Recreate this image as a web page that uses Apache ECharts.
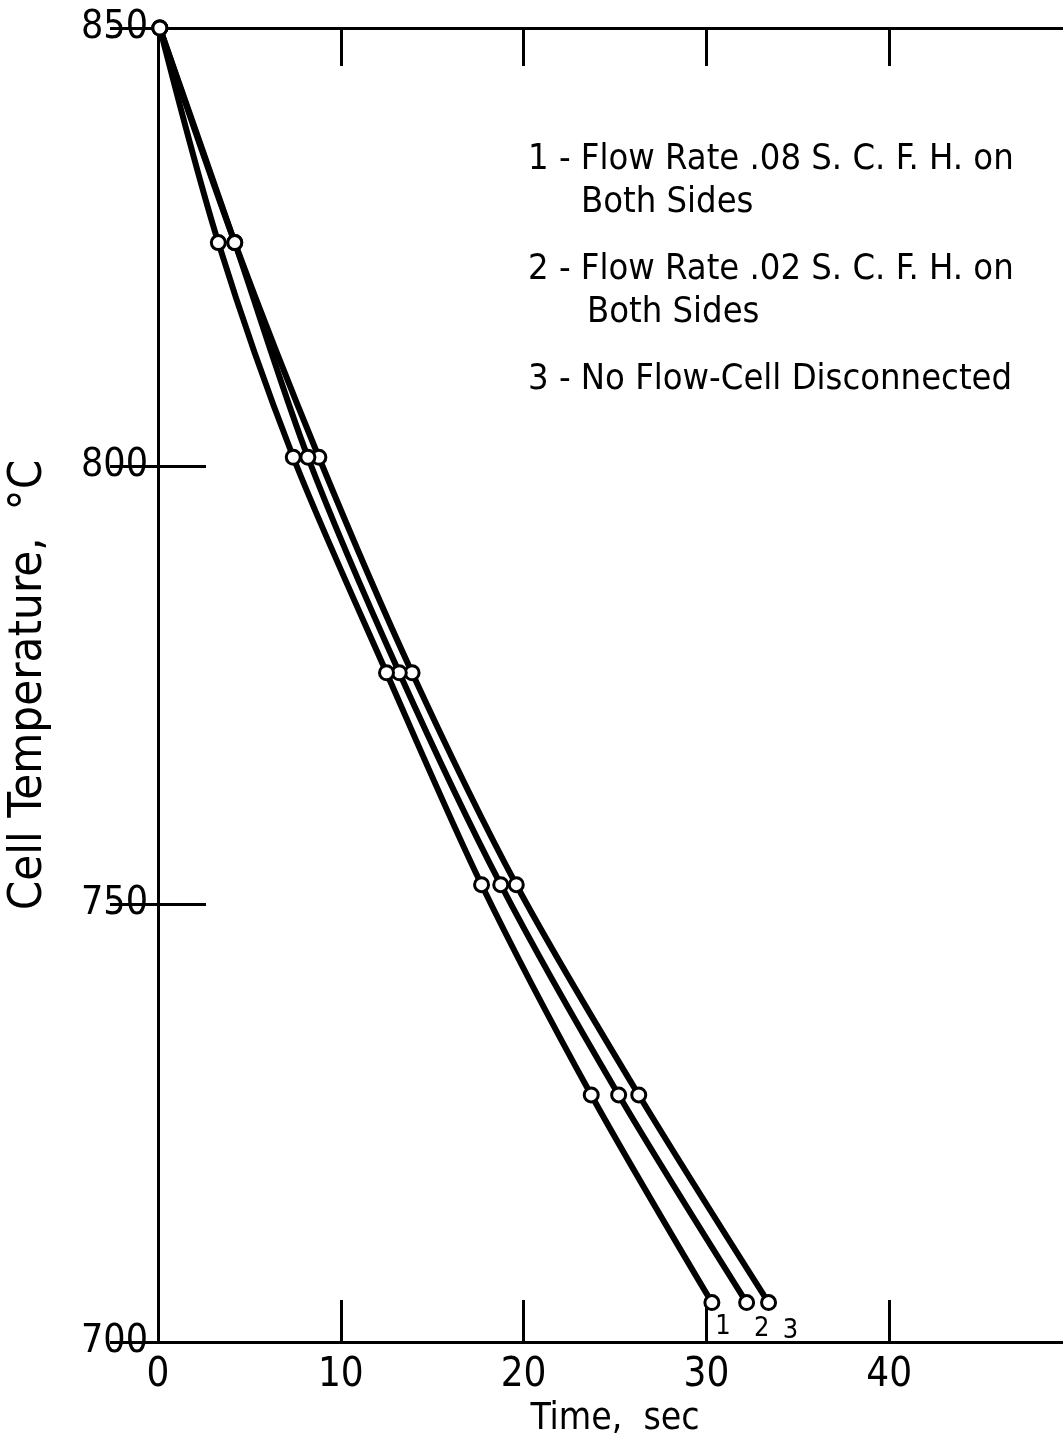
<!DOCTYPE html>
<html lang="en">

<head>
  <meta charset="UTF-8">
  <title>Cell Temperature</title>
  <style>
    html, body { margin: 0; padding: 0; background: #fff; }
    #main { width: 1063px; height: 1435px; }
  </style>
</head>

<body>
  <div id="main"></div>
  <script src="https://cdn.jsdelivr.net/npm/echarts@6/dist/echarts.min.js"></script>
  <script>
    var FONT = "'Liberation Sans Narrow', 'DejaVu Sans Condensed', 'Liberation Sans', sans-serif";

    // temperatures (deg C) at each plotted point, shared by all curves
    var temps = [850, 825.5, 801, 776.4, 752.2, 728.2, 704.5];
    // time (sec) for each curve
    var time1 = [0.1, 3.3, 7.4, 12.5, 17.7, 23.7, 30.3];
    var time2 = [0.1, 4.2, 8.2, 13.2, 18.75, 25.2, 32.2];
    var time3 = [0.1, 4.2, 8.8, 13.9, 19.6, 26.3, 33.4];
    var curveNames = ['1', '2', '3'];
    var legendLines = [
      '1 - Flow Rate .08 S. C. F. H. on',
      'Both Sides',
      '2 - Flow Rate .02 S. C. F. H. on',
      'Both Sides',
      '3 - No Flow-Cell Disconnected'
    ];

    var myChart = echarts.init(document.getElementById('main'));

    var endOffsets = [[11, 24], [15, 26], [22, 28]];

    function makeSeries(times, idx) {
      var pts = [];
      for (var i = 0; i < times.length; i++) {
        pts.push([times[i], temps[i]]);
      }
      var last = pts.length - 1;
      pts[last] = {
        value: pts[last],
        label: {
          show: true,
          formatter: curveNames[idx],
          position: 'inside',
          offset: endOffsets[idx],
          color: '#000',
          fontSize: 27,
          fontFamily: FONT
        }
      };
      return {
        type: 'line',
        name: curveNames[idx],
        data: pts,
        smooth: 0.3,
        symbol: 'circle',
        symbolSize: 14,
        showAllSymbol: true,
        lineStyle: { color: '#000', width: 6 },
        itemStyle: { color: '#fff', borderColor: '#000', borderWidth: 3 },
        z: 10 - idx,
        animation: false
      };
    }

    var legendY = [162, 205, 272, 315, 382];
    var legendX = [528, 581, 528, 587, 528];
    var graphics = legendLines.map(function (t, i) {
      return {
        type: 'text',
        left: legendX[i],
        top: legendY[i] - 20,
        style: {
          text: t,
          fill: '#000',
          font: '36px ' + FONT
        }
      };
    });

    var axisLine = { show: true, lineStyle: { color: '#000', width: 3 } };

    var option = {
      backgroundColor: '#fff',
      grid: { left: 158, top: 28, width: 914, bottom: 93, outerBoundsMode: 'none', containLabel: false },
      graphic: graphics,
      xAxis: [{
        type: 'value',
        min: 0, max: 50, interval: 10,
        position: 'bottom',
        name: 'Time,  sec',
        nameLocation: 'middle',
        nameGap: 58,
        nameTextStyle: { color: '#000', fontSize: 37, fontFamily: FONT },
        axisLine: axisLine,
        axisTick: { show: true, inside: true, length: 42, lineStyle: { color: '#000', width: 3 } },
        axisLabel: {
          color: '#000', fontSize: 40, fontFamily: FONT, margin: 14,
          formatter: function (v) { return v >= 50 ? '' : v; }
        },
        splitLine: { show: false }
      }, {
        type: 'value',
        min: 0, max: 50, interval: 10,
        position: 'top',
        axisLine: axisLine,
        axisTick: { show: true, inside: true, length: 38, lineStyle: { color: '#000', width: 3 } },
        axisLabel: { show: false },
        splitLine: { show: false }
      }],
      yAxis: [{
        type: 'value',
        min: 700, max: 850, interval: 50,
        position: 'left',
        name: 'Cell Temperature,  °C',
        nameLocation: 'middle',
        nameGap: 106,
        nameRotate: 90,
        nameTextStyle: { color: '#000', fontSize: 47, fontFamily: FONT },
        axisLine: axisLine,
        axisTick: { show: true, inside: true, length: 48, lineStyle: { color: '#000', width: 3 } },
        axisLabel: { color: '#000', fontSize: 39, fontFamily: FONT, margin: 10, padding: [14, 0, 0, 0] },
        splitLine: { show: false }
      }, {
        type: 'value',
        min: 700, max: 850, interval: 50,
        position: 'right',
        axisLine: axisLine,
        axisTick: { show: true, inside: true, length: 48, lineStyle: { color: '#000', width: 3 } },
        axisLabel: { show: false },
        splitLine: { show: false }
      }],
      series: [
        makeSeries(time1, 0),
        makeSeries(time2, 1),
        makeSeries(time3, 2)
      ]
    };

    option && myChart.setOption(option);
  </script>
</body>

</html>
